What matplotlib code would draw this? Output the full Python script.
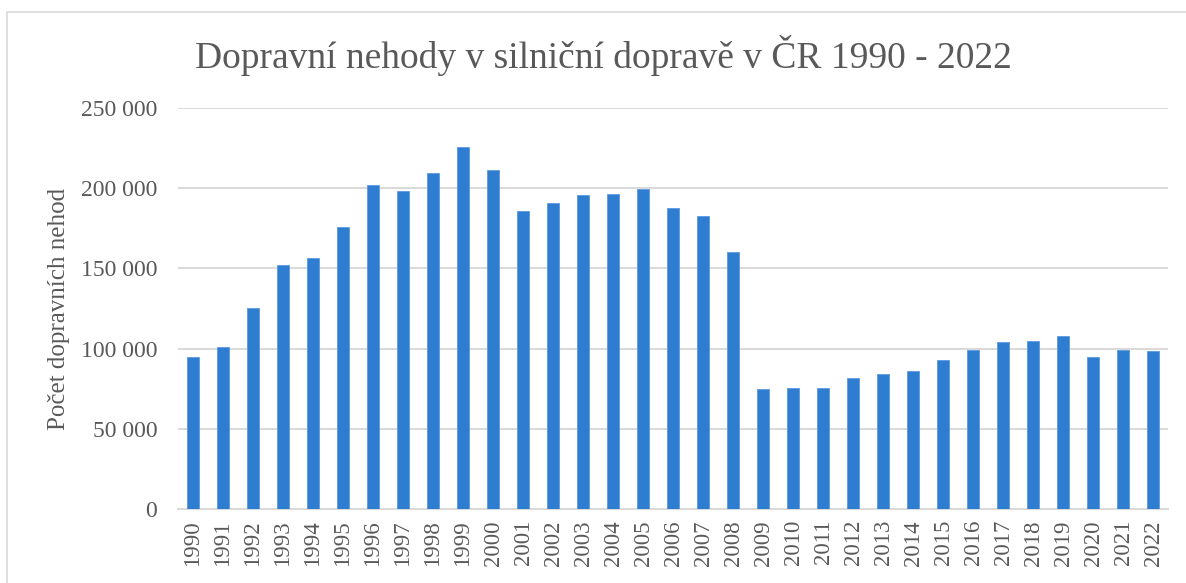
import matplotlib
matplotlib.use("Agg")
import matplotlib.pyplot as plt
from matplotlib.patches import Rectangle
from matplotlib.ticker import FuncFormatter

years = [str(y) for y in range(1990, 2023)]
accidents = [94700, 101100, 125300, 152200, 156200, 175500, 201700, 198500, 209600, 225690,
             211516, 185664, 190718, 195851, 196484, 199262, 187965, 182736, 160376, 74815,
             75522, 75137, 81404, 84398, 85859, 93067, 98864, 103821, 104764, 107572,
             94876, 99416, 98497]

title = "Dopravní nehody v silniční dopravě v ČR 1990 - 2022"
ylabel = "Počet dopravních nehod"

plt.rcParams['font.family'] = ['Liberation Serif', 'DejaVu Serif']
txt = '#595959'

fig = plt.figure(figsize=(11.86, 5.83), dpi=100)
ax = fig.add_axes([178/1186, 1-509/583, 990/1186, 401/583])

x = list(range(len(years)))
ax.bar(x, accidents, width=0.42, color='#2E7DD1', edgecolor='#5A9AE0', linewidth=0.6, zorder=3)

ax.set_xlim(-0.5, len(years) - 0.5)
ax.set_ylim(0, 250000)
ax.set_yticks(range(0, 250001, 50000))
ax.yaxis.set_major_formatter(FuncFormatter(lambda v, p: f"{int(v):,}".replace(",", " ")))
ax.set_xticks(x)
ax.set_xticklabels(years, rotation=90)
ax.grid(axis='y', color='#D9D9D9', linewidth=1.4, zorder=0)
for s in ['top', 'right', 'left']:
    ax.spines[s].set_visible(False)
ax.spines['bottom'].set_color('#D9D9D9')
ax.spines['bottom'].set_linewidth(1.4)
ax.tick_params(axis='x', length=0, labelsize=16.5, labelcolor=txt, pad=8)
ax.tick_params(axis='y', length=0, labelsize=17, labelcolor=txt, pad=15)
ax.set_ylabel(ylabel, fontsize=18, color=txt, labelpad=8)

fig.text(603/1186, 1-55/583, title, fontsize=27, color=txt, ha='center', va='center')

fig.patches.append(Rectangle((7/1186, -0.1), 1.2, 1-12/583+0.1, transform=fig.transFigure,
                             fill=False, edgecolor='#D9D9D9', linewidth=1.2))

fig.savefig("out.png", dpi=100, facecolor='white')
